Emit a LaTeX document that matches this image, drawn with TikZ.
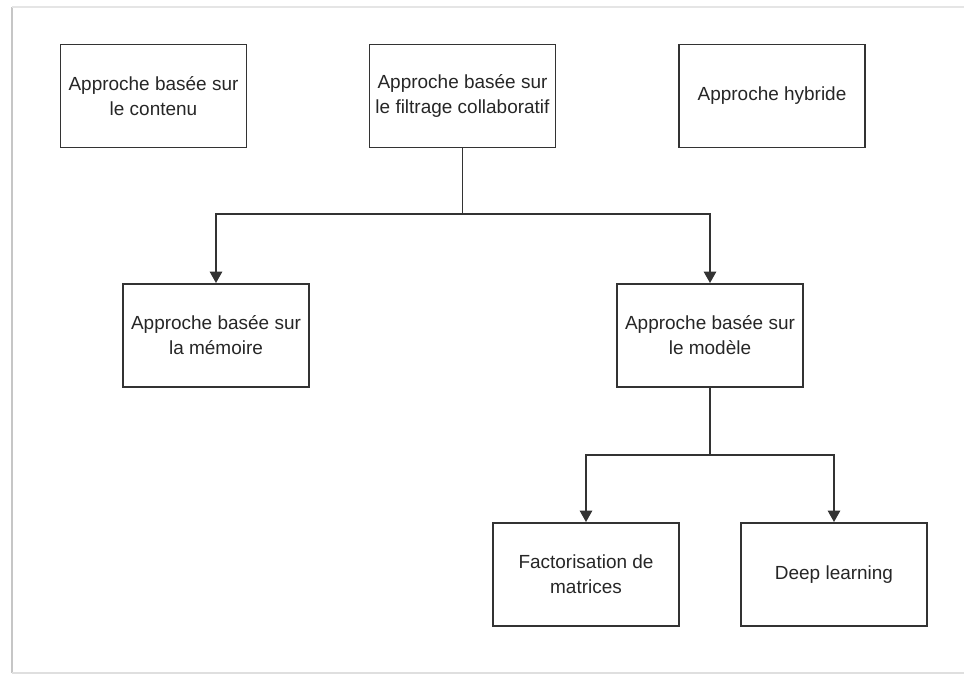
\documentclass[tikz,border=0pt]{standalone}
\usepackage{fontspec}
\setmainfont{Liberation Sans}
\usetikzlibrary{arrows.meta}
\tikzset{
  box/.style={draw=black!80, line width=1.1pt, minimum width=3.72cm, minimum height=2.06cm,
    align=center, text=black!85, font=\fontsize{10.8}{14.2}\selectfont, inner sep=2pt},
  link/.style={draw=black!80, line width=1.1pt},
  arr/.style={link, -{Triangle[width=7pt,length=6.5pt]}}
}
\begin{document}
\begin{tikzpicture}[x=0.02cm, y=-0.02cm]
      \useasboundingbox (0,0) rectangle (964,676);
      % cadre
      \draw[gray!45, line width=1.6pt] (12,7) -- (12,673);
      \draw[gray!20, line width=1pt] (12,7) -- (964,7);
      \draw[gray!25, line width=1pt] (12,673) -- (964,673);
      % boites
      \node[box] (contenu) at (153.5,96) {Approche basée sur\\le contenu};
      \node[box] (filtrage) at (462.5,96) {Approche basée sur\\le filtrage collaboratif};
      \node[box] (hybride) at (772,96) {Approche hybride};
      \node[box] (memoire) at (216,335.5) {Approche basée sur\\la mémoire};
      \node[box] (modele) at (710,335.5) {Approche basée sur\\le modèle};
      \node[box] (facto) at (586,574.5) {Factorisation de\\matrices};
      \node[box] (deep) at (834,574.5) {Deep learning};
      % liens
      \coordinate (j1) at (462.5,214);
      \coordinate (j2) at (710,455);
      \draw[link] (filtrage.south) -- (j1);
      \draw[arr] (j1) -| (memoire.north);
      \draw[arr] (j1) -| (modele.north);
      \draw[link] (modele.south) -- (j2);
      \draw[arr] (j2) -| (facto.north);
      \draw[arr] (j2) -| (deep.north);
\end{tikzpicture}
\end{document}
